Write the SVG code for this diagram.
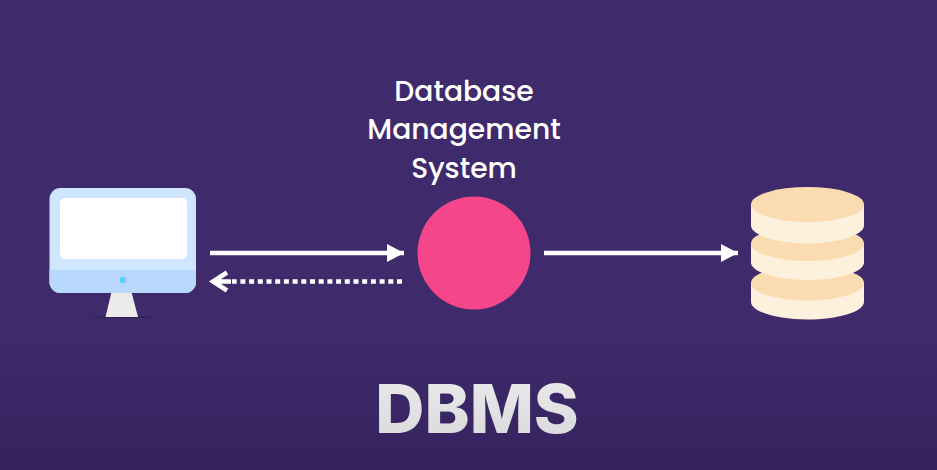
<svg xmlns="http://www.w3.org/2000/svg" width="937" height="470" viewBox="0 0 937 470">
<defs>
<linearGradient id="bg" x1="0" y1="0" x2="0" y2="1"><stop offset="0" stop-color="#3f2a6b"/><stop offset="0.72" stop-color="#3f2a6b"/><stop offset="1" stop-color="#35235e"/></linearGradient>
<linearGradient id="tg" x1="0" y1="0" x2="0" y2="1"><stop offset="0" stop-color="#ececec"/><stop offset="1" stop-color="#d8d8dc"/></linearGradient>
<marker id="solid" markerWidth="18" markerHeight="20" refX="17" refY="9" orient="auto" markerUnits="userSpaceOnUse"><path d="M0,0 L17,9 L0,18 Z" fill="#fff"/></marker>
</defs>
<style>
.lbl{font-family:Poppins,"Open Sans","Noto Sans",sans-serif;font-size:28.200px;fill:#fff;text-anchor:middle;font-weight:500}
.ln{stroke:#fff;stroke-width:4.500;fill:none}
.top{fill:#fadcb0}.side{fill:#fdf0dc}
</style>
<rect width="937" height="470" fill="url(#bg)"/>
<g id="client">
<path d="M95,316.500H152V318H95Z" fill="#2e2350"/>
<path d="M111.500,292H131.500L138,317H105.500Z" fill="#eceaea"/>
<rect x="49.500" y="188" width="146.500" height="105" rx="11" fill="#d0e6fe"/>
<path d="M49.500,270H196V282A11,11 0 0 1 185,293H60.500A11,11 0 0 1 49.500,282Z" fill="#b9d9fc"/>
<rect x="60" y="198" width="127" height="61" rx="5" fill="#fff"/>
<circle cx="122.700" cy="280" r="3.300" fill="#5fd0f7"/>
</g>
<g id="dbms">
<circle cx="474" cy="253" r="56.500" fill="#f5468c"/>
<text class="lbl" x="464" y="100.500">Database</text>
<text class="lbl" x="464" y="139">Management</text>
<text class="lbl" x="464" y="177.500">System</text>
</g>
<g id="database">
<path d="M751,283V302C751,312 778,319.500 807.500,319.500S864,312 864,302V283Z" class="side"/>
<ellipse cx="807.500" cy="283" rx="56.500" ry="17.500" class="top"/>
<path d="M751,243.500V262.500C751,272.500 778,280 807.500,280S864,272.500 864,262.500V243.500Z" class="side"/>
<ellipse cx="807.500" cy="243.500" rx="56.500" ry="17.500" class="top"/>
<path d="M751,204.500V225.500C751,235.500 778,243.500 807.500,243.500S864,235.500 864,225.500V204.500Z" class="side"/>
<ellipse cx="807.500" cy="204.500" rx="56.500" ry="17.500" class="top"/>
</g>
<g id="connectors">
<path class="ln" d="M210,253H404" marker-end="url(#solid)"/>
<path class="ln" d="M544,253H738" marker-end="url(#solid)"/>
<path d="M402,281.500H232" stroke="#fff" stroke-width="4.500" stroke-dasharray="5 3.700" fill="none"/>
<path d="M213,281.500H231M227,272.500L213,281.500L227,290.500" stroke="#fff" stroke-width="4.500" fill="none"/>
</g>
<g id="title">
<text x="477" y="433" font-family="Inter,'Liberation Sans',sans-serif" font-weight="800" font-size="68" text-anchor="middle" fill="url(#tg)">DBMS</text>
</g>
</svg>
